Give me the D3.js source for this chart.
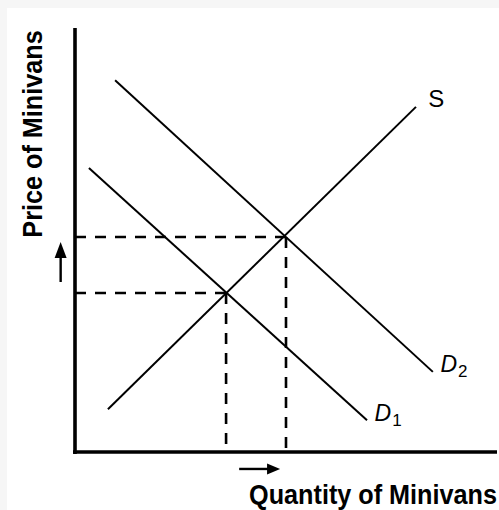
<!DOCTYPE html>
<html>
<head>
<meta charset="utf-8">
<script src="https://cdn.jsdelivr.net/npm/d3@7"></script>
<style>
html,body{margin:0;padding:0;background:#f6f6f6;}
svg{display:block;}
</style>
</head>
<body>
<script>
// ---- data (economic units, 0..100 on each axis) ----
const curveNames = ["S", "D1", "D2"];
const curveQ = [[7.8, 80.8], [3.3, 69.2], [9.5, 84.8]];
const curveP = [[10.1, 81.4], [67.0, 7.5], [87.7, 18.9]];
const eqQ = [35.8, 50.0];
const eqP = [37.5, 50.7];
const arrowUpQ = [-3.4, -3.4];
const arrowUpP = [40.1, 49.5];
const arrowRightQ = [38.9, 48.6];
const arrowRightP = [-4.0, -4.0];
const xTitle = "Quantity of Minivans";
const yTitle = "Price of Minivans";

const W = 499, H = 510;
const svg = d3.select("body").append("svg").attr("width", W).attr("height", H);
svg.append("rect").attr("x", 7).attr("y", 8).attr("width", W - 7).attr("height", H - 8).attr("fill", "#fff");

const x = d3.scaleLinear().domain([0, 100]).range([75, 497]);
const y = d3.scaleLinear().domain([0, 100]).range([452, 28]);

// dashed guides
const g = svg.append("g").attr("stroke", "#000").attr("stroke-width", 2.6).attr("stroke-dasharray", "11,9").attr("fill", "none");
eqQ.forEach((q, i) => {
  g.append("line").attr("x1", x(0)).attr("x2", x(q)).attr("y1", y(eqP[i])).attr("y2", y(eqP[i]));
  g.append("line").attr("x1", x(q)).attr("x2", x(q)).attr("y1", y(eqP[i])).attr("y2", y(0));
});

// curves
const line = d3.line().x(d => x(d[0])).y(d => y(d[1]));
curveNames.forEach((n, i) => {
  const pts = curveQ[i].map((q, j) => [q, curveP[i][j]]);
  svg.append("path").attr("d", line(pts)).attr("stroke", "#000").attr("stroke-width", 2).attr("fill", "none");
});

// axes
svg.append("line").attr("x1", x(0)).attr("x2", x(0)).attr("y1", y(100)).attr("y2", y(0) + 2)
  .attr("stroke", "#000").attr("stroke-width", 3.6);
svg.append("line").attr("x1", x(0) - 2).attr("x2", x(100)).attr("y1", y(0)).attr("y2", y(0))
  .attr("stroke", "#000").attr("stroke-width", 3.6);

// shift arrows (shaft + head)
function arrow(qs, ps, len, wid) {
  const x0 = x(qs[0]), y0 = y(ps[0]), x1 = x(qs[1]), y1 = y(ps[1]);
  const L = Math.hypot(x1 - x0, y1 - y0), ux = (x1 - x0) / L, uy = (y1 - y0) / L;
  const bx = x1 - ux * len, by = y1 - uy * len;
  svg.append("line").attr("x1", x0).attr("y1", y0).attr("x2", bx + ux).attr("y2", by + uy)
    .attr("stroke", "#000").attr("stroke-width", 2.4);
  const pts = [[x1, y1], [bx - uy * wid / 2, by + ux * wid / 2], [bx + uy * wid / 2, by - ux * wid / 2]];
  svg.append("path").attr("d", "M" + pts.map(p => p.join(",")).join("L") + "Z").attr("fill", "#000");
}
arrow(arrowUpQ, arrowUpP, 16, 12);
arrow(arrowRightQ, arrowRightP, 13, 11);

// curve labels
const lab = svg.append("g").attr("font-family", "'Liberation Sans', Arial, sans-serif").attr("fill", "#000");
lab.append("text").attr("x", x(83.7)).attr("y", y(81.3)).attr("font-size", 24).text("S");
function dLabel(px, py, sub) {
  const t = lab.append("text").attr("x", px).attr("y", py).attr("font-size", 23);
  t.append("tspan").attr("font-style", "italic").text("D");
  t.append("tspan").attr("font-size", 17).attr("dy", 5).attr("dx", 1).text(sub);
}
dLabel(x(86.6), y(18.8), "2");
dLabel(x(71.0), y(7.4), "1");

// titles
svg.append("text").attr("transform", "translate(497,504) scale(0.97,1.06)").attr("text-anchor", "end")
  .attr("font-family", "'Liberation Sans', Arial, sans-serif").attr("font-weight", "bold")
  .attr("font-size", 26).text(xTitle);
svg.append("text").attr("transform", "translate(42,134) rotate(-90) scale(0.97,1.06)").attr("text-anchor", "middle")
  .attr("font-family", "'Liberation Sans', Arial, sans-serif").attr("font-weight", "bold")
  .attr("font-size", 26).text(yTitle);
</script>
</body>
</html>
